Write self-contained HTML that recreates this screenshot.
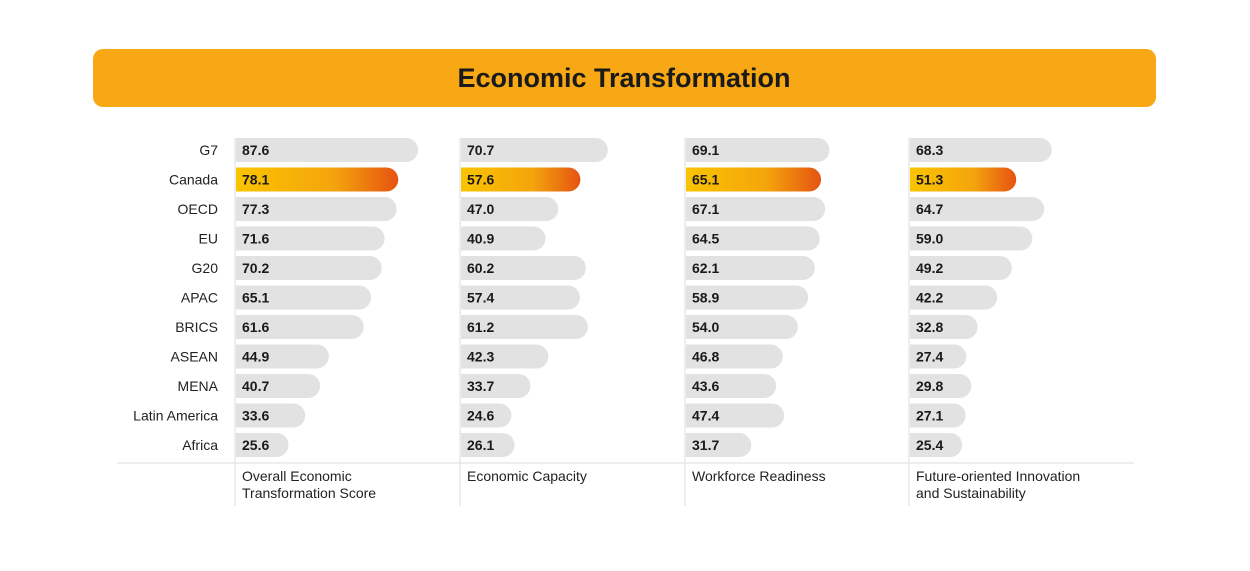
<!DOCTYPE html>
<html><head><meta charset="utf-8"><style>
body{margin:0;background:#fff;width:1250px;height:566px;overflow:hidden;font-family:"Liberation Sans",sans-serif}
</style></head><body>
<svg id="chart" width="1250" height="566" xmlns="http://www.w3.org/2000/svg">
<defs><linearGradient id="g" x1="0" x2="1"><stop offset="0" stop-color="#FAC400"/><stop offset="0.6" stop-color="#F4A40C"/><stop offset="1" stop-color="#E65312"/></linearGradient></defs>
<rect x="93" y="49" width="1063" height="58" rx="10" fill="#F7A814"/>
<text x="624" y="87" text-anchor="middle" font-size="27" font-weight="bold" fill="#1a1a1a">Economic Transformation</text>
<line x1="117" y1="463" x2="1134" y2="463" stroke="#ddd" stroke-width="1"/>
</svg>
<script>
const categories=["G7","Canada","OECD","EU","G20","APAC","BRICS","ASEAN","MENA","Latin America","Africa"];
const seriesNames=[["Overall Economic","Transformation Score"],["Economic Capacity"],["Workforce Readiness"],["Future-oriented Innovation","and  Sustainability"]];
const overall=[87.6,78.1,77.3,71.6,70.2,65.1,61.6,44.9,40.7,33.6,25.6];
const capacity=[70.7,57.6,47.0,40.9,60.2,57.4,61.2,42.3,33.7,24.6,26.1];
const workforce=[69.1,65.1,67.1,64.5,62.1,58.9,54.0,46.8,43.6,47.4,31.7];
const innovation=[68.3,51.3,64.7,59.0,49.2,42.2,32.8,27.4,29.8,27.1,25.4];
const series=[overall,capacity,workforce,innovation];
const svg=document.getElementById('chart');const NS="http://www.w3.org/2000/svg";
const colX=[235,460,685,909];
const xs=v=>v*2.09;
const ys=i=>150+i*29.5;
function mk(t,a){const e=document.createElementNS(NS,t);for(const k in a)e.setAttribute(k,a[k]);svg.appendChild(e);return e;}
categories.forEach((c,i)=>{const t=mk('text',{x:218,y:ys(i)+5,'text-anchor':'end','font-size':14,fill:'#222'});t.textContent=c;

});
series.forEach((s,j)=>{const x0=colX[j];
const l=mk('line',{x1:x0,y1:138,x2:x0,y2:506,stroke:'#ddd','stroke-width':1});


s.forEach((v,i)=>{const w=xs(v);const y=ys(i)-12;
const p=mk('path',{d:`M${x0+1},${y}H${x0+w-12}A12,12 0 0 1 ${x0+w-12},${y+24}H${x0+1}Z`,fill:i===1?'url(#g)':'#E3E2E2'});


const t=mk('text',{x:x0+7,y:ys(i)+5,'font-size':14,'font-weight':'bold',fill:'#1a1a1a'});t.textContent=v.toFixed(1);

});
seriesNames[j].forEach((n,k)=>{const t=mk('text',{x:x0+7,y:481+k*17,'font-size':14,fill:'#222'});t.textContent=n;

});});
</script>
</body></html>
